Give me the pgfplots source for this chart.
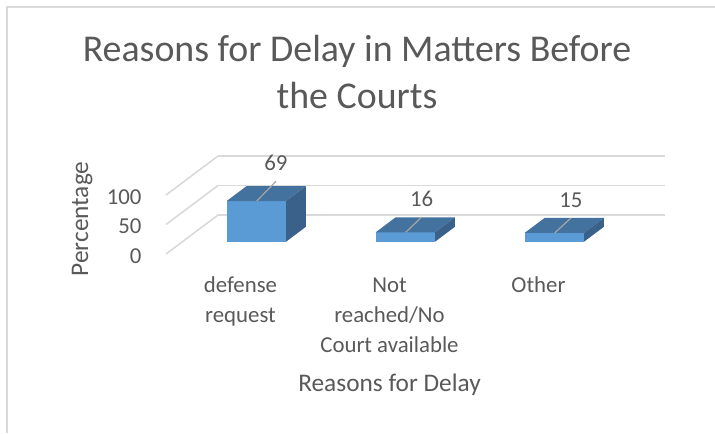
\documentclass[border=0pt]{standalone}
\usepackage{pgfplots}
\usepackage{pgfplotstable}
\pgfplotsset{compat=1.18}
\usepackage{fontspec}
\setmainfont{Carlito}
\definecolor{textgray}{HTML}{595959}
\definecolor{gridgray}{HTML}{D9D9D9}
\definecolor{barfront}{HTML}{5B9BD5}
\definecolor{bartop}{HTML}{43729F}
\definecolor{barside}{HTML}{3A6189}
\definecolor{leadgray}{HTML}{A6A6A6}

\pgfplotstableread{
x v lx ly
0 69 0.238 153.7
1 16 0.216 93.2
2 15 0.218 91.5
}\datatable

\newcommand{\fl}{\rule{0pt}{14pt}}

\begin{document}
\begin{tikzpicture}
\useasboundingbox (0,0) rectangle (536.25pt,324.75pt);
% chart area frame (cropped)
\draw[gridgray, line width=1.5pt] (5.25pt,0pt) -- (5.25pt,319.5pt) -- (536.25pt,319.5pt);
% title
\node[anchor=base, text=textgray, font=\fontsize{28.4}{34}\selectfont] at (267.75pt,278.5pt) {Reasons for Delay in Matters Before};
\node[anchor=base, text=textgray, font=\fontsize{28.4}{34}\selectfont] at (267.75pt,243.75pt) {the Courts};
\begin{axis}[
  at={(124.5pt,134.25pt)}, anchor=south west,
  scale only axis, width=374.25pt, height=73.5pt,
  xmin=-0.5, xmax=2.849, ymin=0, ymax=166.1,
  clip=false,
  axis line style={draw=none},
  major tick length=0pt,
  /pgf/number format/assume math mode=true,
  xtick={0,1,2},
  xticklabels={{\fl defense\\request},{\fl Not\\reached/No\\Court available},{\fl Other}},
  xticklabel style={align=center, font=\fontsize{17.1}{22.5}\selectfont, text=textgray, anchor=north, inner sep=0pt, yshift=-14.3pt},
  ytick={0,50,100},
  yticklabel style={font=\fontsize{17.1}{20}\selectfont, text=textgray, anchor=east, inner sep=0pt, xshift=-18.2pt, yshift=-1.5pt},
  xlabel={Reasons for Delay},
  ylabel={Percentage},
  every axis x label/.style={at={(axis description cs:0.448,-1.408)}, anchor=base, font=\fontsize{19}{23}\selectfont, text=textgray},
  every axis y label/.style={at={(axis description cs:-0.168,0.357)}, anchor=center, rotate=90, font=\fontsize{19}{23}\selectfont, text=textgray},
]
% back wall gridlines
\addplot[gridgray, line width=1.2pt] coordinates {(-0.151,66.1) (2.849,66.1)};
\addplot[gridgray, line width=1.2pt] coordinates {(-0.151,116.1) (2.849,116.1)};
\addplot[gridgray, line width=1.2pt] coordinates {(-0.151,166.1) (2.849,166.1)};
% side wall gridlines
\addplot[gridgray, line width=1.2pt] coordinates {(-0.5,0) (-0.151,66.1)};
\addplot[gridgray, line width=1.2pt] coordinates {(-0.5,50) (-0.151,116.1)};
\addplot[gridgray, line width=1.2pt] coordinates {(-0.5,100) (-0.151,166.1)};
% 3D bars
\pgfplotsinvokeforeach{0,1,2}{
  \pgfplotstablegetelem{#1}{v}\of\datatable \edef\val{\pgfplotsretval}
  \pgfplotstablegetelem{#1}{lx}\of\datatable \edef\lxv{\pgfplotsretval}
  \pgfplotstablegetelem{#1}{ly}\of\datatable \edef\lyv{\pgfplotsretval}
  \pgfmathsetmacro\xl{#1-0.0926}
  \pgfmathsetmacro\xr{#1+0.3054}
  \pgfmathsetmacro\xlb{#1-0.0926+0.134}
  \pgfmathsetmacro\xrb{#1+0.3054+0.134}
  \pgfmathsetmacro\yb{20.8}
  \pgfmathsetmacro\yt{20.8+\val}
  \pgfmathsetmacro\ybb{20.8+25.4}
  \pgfmathsetmacro\ytb{20.8+25.4+\val}
  \pgfmathsetmacro\lxa{#1+0.109}
  \pgfmathsetmacro\lxb{#1+\lxv}
  \pgfmathsetmacro\lyb{\lyv-30.5}
  \addplot[fill=barfront, draw=none] coordinates {(\xl,\yb) (\xr,\yb) (\xr,\yt) (\xl,\yt)} --cycle;
  \addplot[fill=bartop, draw=none] coordinates {(\xl,\yt) (\xr,\yt) (\xrb,\ytb) (\xlb,\ytb)} --cycle;
  \addplot[fill=barside, draw=none] coordinates {(\xr,\yb) (\xrb,\ybb) (\xrb,\ytb) (\xr,\yt)} --cycle;
  \addplot[leadgray, line width=0.9pt] coordinates {(\lxa,\yt) (\lxb,\lyb)};
}
% data labels
\addplot[draw=none, mark=none, nodes near coords, point meta=explicit,
  every node near coord/.style={anchor=center, inner sep=0pt, font=\fontsize{17.1}{20}\selectfont, text=textgray}]
  table[x expr=\thisrow{x}+\thisrow{lx}, y=ly, meta=v] {\datatable};
\end{axis}
\end{tikzpicture}
\end{document}
